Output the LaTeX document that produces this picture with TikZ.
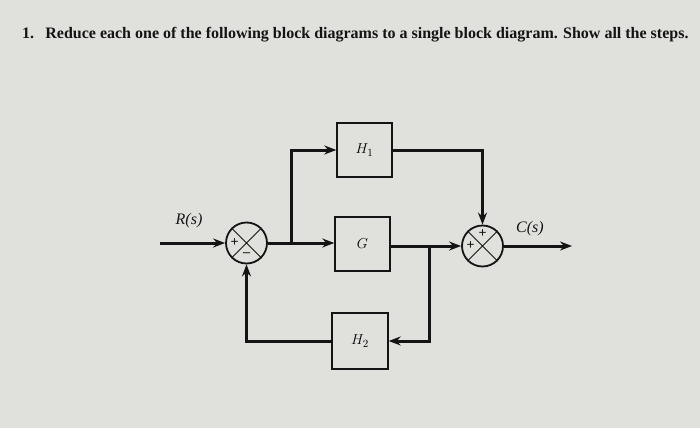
\documentclass[tikz,border=0pt]{standalone}
\usepackage{fontspec}
\setmainfont{Liberation Serif}
\usetikzlibrary{arrows.meta,calc}
\definecolor{bgc}{RGB}{224,224,221}
\definecolor{ink}{RGB}{20,20,20}
\tikzset{
  x=1pt,y=-1pt,
  blk/.style={draw=ink,line width=1.4pt,minimum width=55pt,minimum height=54pt,inner sep=0pt,font=\fontsize{15}{17}\selectfont\itshape},
  sumc/.style={draw=ink,line width=1.8pt,circle,minimum size=41pt,inner sep=0pt},
  xline/.style={draw=ink,line width=1pt},
  conn/.style={draw=ink,line width=3pt},
  arr/.style={conn,-{Stealth[length=12pt,width=9pt]}},
  sgn/.style={font=\fontsize{14}{15}\selectfont\bfseries,inner sep=0pt,text=ink},
  lbl/.style={font=\fontsize{16}{18}\selectfont\itshape,text=ink,inner sep=0pt}
}
\begin{document}
\begin{tikzpicture}
\fill[bgc] (0,0) rectangle (700,428);
\useasboundingbox (0,0) rectangle (700,428);
\node[anchor=base west,inner sep=0pt,font=\fontsize{16}{18}\selectfont\bfseries,text=ink] (title) at (22,39)
  {1.\hspace{0.7em}Reduce each one of the following block diagrams to a single block diagram. Show all the steps.};

\node[sumc] (s1) at (246.5,243) {};
\draw[xline] (s1.north east) -- (s1.south west) (s1.north west) -- (s1.south east);
\node[sgn] (s1p) at ($(s1.center)+(-12,0)$) {+};
\node[sgn] (s1m) at ($(s1.center)+(0,12)$) {--};

\node[sumc] (s2) at (482.5,246) {};
\draw[xline] (s2.north east) -- (s2.south west) (s2.north west) -- (s2.south east);
\node[sgn] (s2t) at ($(s2.center)+(0,-12)$) {+};
\node[sgn] (s2l) at ($(s2.center)+(-12,0)$) {+};

\node[blk] (h1) at (364.5,150) {$H_1$};
\node[blk] (g) at (362.5,244) {$G$};
\node[blk,minimum width=56pt,minimum height=56pt] (h2) at (360,341) {$H_2$};

\coordinate (rin) at (160,243);
\coordinate (j1) at (291,243);
\coordinate (j2) at (429,246);
\coordinate (cout) at (572,246);

\node[lbl] (rl) at (189,221) {R(s)};
\node[lbl] (cl) at (530,229) {C(s)};

\draw[arr] (rin) -- (s1.west);
\draw[conn] (s1.east) -- (j1);
\draw[arr] (j1) -- (g.west |- j1);
\draw[arr] (j1) |- (h1.west);
\draw[conn] (g.east |- j2) -- (j2);
\draw[arr] (j2) -- (s2.west);
\draw[arr] (h1.east) -| (s2.north);
\draw[arr] (j2) |- (h2.east);
\draw[arr] (h2.west) -| (s1.south);
\draw[arr] (s2.east) -- (cout);
\end{tikzpicture}
\end{document}
